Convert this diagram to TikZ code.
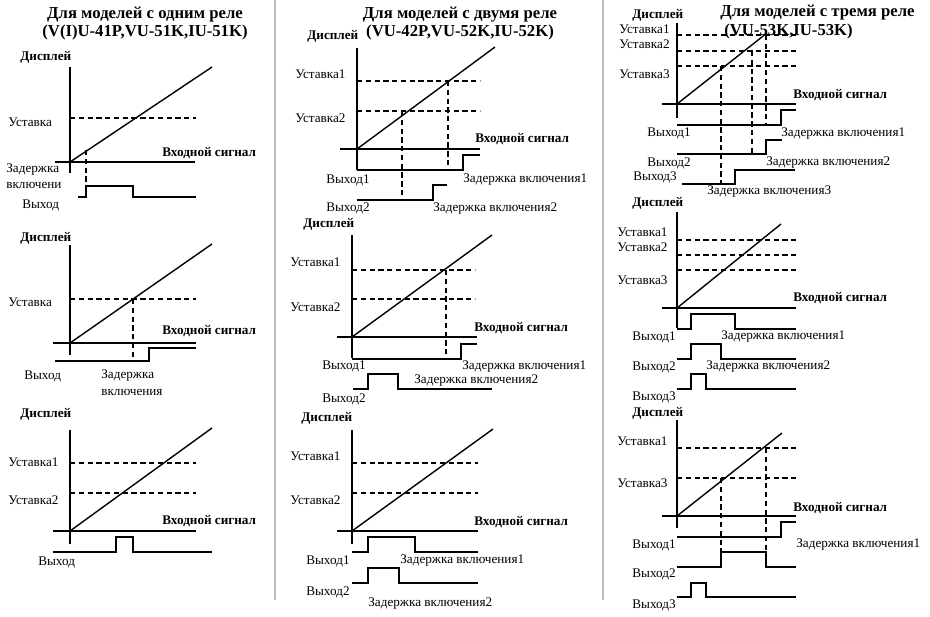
\documentclass[tikz,border=0pt]{standalone}
\usepackage{fontspec}
\setmainfont{Liberation Serif}
\begin{document}
\begin{tikzpicture}[x=0.02cm,y=-0.02cm,
  ln/.style={line width=0.8pt},
  ds/.style={line width=0.7pt,dash pattern=on 3pt off 2pt},
  sep/.style={line width=0.6pt,black!25},
  lb/.style={font=\fontsize{7.5}{8}\selectfont,inner sep=0pt,anchor=west},
  bl/.style={font=\bfseries\fontsize{7.5}{8}\selectfont,inner sep=0pt,anchor=west},
  ttl/.style={font=\bfseries\fontsize{9.5}{10}\selectfont,inner sep=0pt}]
\useasboundingbox (0,0) rectangle (930,616);
\draw[sep] (275,0) -- (275,600);
\draw[sep] (603,0) -- (603,600);
% ===== Column 1 =====
\node[ttl] (t1a) at (145,15) {Для моделей с одним реле};
\node[ttl] (t1b) at (145,32) {(V(I)U-41P,VU-51K,IU-51K)};
% top
\draw[ln] (70,67) -- (70,173); \draw[ln] (55,162) -- (195,162);
\draw[ln] (70,162) -- (212,67);
\draw[ds] (70,118) -- (196,118); \draw[ds] (86,150) -- (86,190);
\draw[ln] (78,197) -- (86,197) -- (86,186) -- (133,186) -- (133,197) -- (196,197);
\node[bl] (d1) at (20,57) {Дисплей};
\node[lb] (u1) at (8,122) {Уставка};
\node[bl] (v1) at (162,153) {Входной сигнал};
\node[lb] (z1) at (6,170) {Задержка};
\node[lb] (z1b) at (6,185) {включени};
\node[lb] (o1) at (22,205) {Выход};
% middle
\draw[ln] (70,245) -- (70,355); \draw[ln] (53,343) -- (196,343);
\draw[ln] (70,343) -- (212,244);
\draw[ds] (70,299) -- (196,299); \draw[ds] (133,299) -- (133,362);
\draw[ln] (55,361) -- (149,361) -- (149,348) -- (196,348);
\node[bl] (d2) at (20,238) {Дисплей};
\node[lb] (u2) at (8,302) {Уставка};
\node[bl] (v2) at (162,331) {Входной сигнал};
\node[lb] (o2) at (24,376) {Выход};
\node[lb] (z2) at (101,376) {Задержка};
\node[lb] (z2b) at (101,392) {включения};
% bottom
\draw[ln] (70,430) -- (70,544); \draw[ln] (53,531) -- (196,531);
\draw[ln] (70,531) -- (212,428);
\draw[ds] (70,463) -- (196,463); \draw[ds] (70,493) -- (196,493);
\draw[ln] (53,552) -- (116,552) -- (116,537) -- (133,537) -- (133,552) -- (212,552);
\node[bl] (d3) at (20,414) {Дисплей};
\node[lb] (u3a) at (8,462) {Уставка1};
\node[lb] (u3b) at (8,500) {Уставка2};
\node[bl] (v3) at (162,521) {Входной сигнал};
\node[lb] (o3) at (38,562) {Выход};
% ===== Column 2 =====
\node[ttl] (t2a) at (460,15) {Для моделей с двумя реле};
\node[ttl] (t2b) at (460,32) {(VU-42P,VU-52K,IU-52K)};
% top
\draw[ln] (357,48) -- (357,170); \draw[ln] (340,149) -- (480,149);
\draw[ln] (357,149) -- (495,47);
\draw[ds] (357,81) -- (480,81); \draw[ds] (357,111) -- (480,111);
\draw[ds] (448,81) -- (448,170); \draw[ds] (402,111) -- (402,200);
\draw[ln] (357,170) -- (463,170) -- (463,155) -- (480,155);
\draw[ln] (357,200) -- (433,200) -- (433,185) -- (447,185);
\node[bl] (d4) at (307,36) {Дисплей};
\node[lb] (u4a) at (295,74) {Уставка1};
\node[lb] (u4b) at (295,118) {Уставка2};
\node[bl] (v4) at (475,139) {Входной сигнал};
\node[lb] (o4a) at (326,180) {Выход1};
\node[lb] (z4a) at (463,180) {Задержка включения1};
\node[lb] (o4b) at (326,208) {Выход2};
\node[lb] (z4b) at (433,209) {Задержка включения2};
% middle
\draw[ln] (352,235) -- (352,358); \draw[ln] (337,337) -- (477,337);
\draw[ln] (352,337) -- (492,235);
\draw[ds] (352,270) -- (475,270); \draw[ds] (352,299) -- (475,299);
\draw[ds] (446,270) -- (446,358);
\draw[ln] (352,359) -- (461,359) -- (461,344) -- (477,344);
\draw[ln] (353,389) -- (368,389) -- (368,374) -- (398,374) -- (398,389) -- (492,389);
\node[bl] (d5) at (303,224) {Дисплей};
\node[lb] (u5a) at (290,262) {Уставка1};
\node[lb] (u5b) at (290,307) {Уставка2};
\node[bl] (v5) at (474,328) {Входной сигнал};
\node[lb] (o5a) at (322,366) {Выход1};
\node[lb] (z5a) at (462,367) {Задержка включения1};
\node[lb] (z5b) at (414,381) {Задержка включения2};
\node[lb] (o5b) at (322,399) {Выход2};
% bottom
\draw[ln] (352,430) -- (352,544); \draw[ln] (337,531) -- (478,531);
\draw[ln] (352,531) -- (493,429);
\draw[ds] (352,463) -- (478,463); \draw[ds] (352,493) -- (478,493);
\draw[ln] (352,552) -- (368,552) -- (368,537) -- (415,537) -- (415,552) -- (478,552);
\draw[ln] (352,583) -- (368,583) -- (368,568) -- (399,568) -- (399,583) -- (478,583);
\node[bl] (d6) at (301,418) {Дисплей};
\node[lb] (u6a) at (290,456) {Уставка1};
\node[lb] (u6b) at (290,500) {Уставка2};
\node[bl] (v6) at (474,522) {Входной сигнал};
\node[lb] (o6a) at (306,561) {Выход1};
\node[lb] (z6a) at (400,561) {Задержка включения1};
\node[lb] (o6b) at (306,592) {Выход2};
\node[lb] (z6b) at (368,604) {Задержка включения2};
% ===== Column 3 =====
\node[ttl,anchor=west] (t3a) at (720,13) {Для моделей с тремя реле};
\node[ttl,anchor=west] (t3b) at (724,31) {(VU-53K,IU-53K)};
% top
\draw[ln] (677,23) -- (677,118); \draw[ln] (662,104) -- (796,104);
\draw[ln] (677,104) -- (767,33);
\draw[ds] (677,35) -- (796,35); \draw[ds] (677,51) -- (796,51); \draw[ds] (677,66) -- (796,66);
\draw[ds] (766,35) -- (766,125); \draw[ds] (752,51) -- (752,153); \draw[ds] (721,66) -- (721,185);
\draw[ln] (677,125) -- (781,125) -- (781,110) -- (796,110);
\draw[ln] (677,154) -- (766,154) -- (766,140) -- (782,140);
\draw[ln] (682,184) -- (735,184) -- (735,170) -- (795,170);
\node[bl] (d7) at (632,15) {Дисплей};
\node[lb] (u7a) at (619,29) {Уставка1};
\node[lb] (u7b) at (619,44) {Уставка2};
\node[lb] (u7c) at (619,74) {Уставка3};
\node[bl] (v7) at (793,95) {Входной сигнал};
\node[lb] (o7a) at (647,133) {Выход1};
\node[lb] (z7a) at (781,134) {Задержка включения1};
\node[lb] (o7b) at (647,163) {Выход2};
\node[lb] (z7b) at (766,163) {Задержка включения2};
\node[lb] (o7c) at (633,177) {Выход3};
\node[lb] (z7c) at (707,192) {Задержка включения3};
% middle
\draw[ln] (677,212) -- (677,328); \draw[ln] (662,308) -- (796,308);
\draw[ln] (677,308) -- (781,224);
\draw[ds] (677,240) -- (796,240); \draw[ds] (677,255) -- (796,255); \draw[ds] (677,270) -- (796,270);
\draw[ln] (677,329) -- (691,329) -- (691,314) -- (735,314) -- (735,329) -- (796,329);
\draw[ln] (677,359) -- (691,359) -- (691,344) -- (721,344) -- (721,359) -- (796,359);
\draw[ln] (677,389) -- (691,389) -- (691,374) -- (706,374) -- (706,389) -- (796,389);
\node[bl] (d8) at (632,203) {Дисплей};
\node[lb] (u8a) at (617,232) {Уставка1};
\node[lb] (u8b) at (617,247) {Уставка2};
\node[lb] (u8c) at (617,280) {Уставка3};
\node[bl] (v8) at (793,298) {Входной сигнал};
\node[lb] (o8a) at (632,337) {Выход1};
\node[lb] (z8a) at (721,337) {Задержка включения1};
\node[lb] (o8b) at (632,367) {Выход2};
\node[lb] (z8b) at (706,367) {Задержка включения2};
\node[lb] (o8c) at (632,397) {Выход3};
% bottom
\draw[ln] (677,420) -- (677,528); \draw[ln] (662,516) -- (796,516);
\draw[ln] (677,516) -- (782,433);
\draw[ds] (677,448) -- (796,448); \draw[ds] (677,478) -- (796,478);
\draw[ds] (766,448) -- (766,567); \draw[ds] (721,478) -- (721,567);
\draw[ln] (677,537) -- (781,537) -- (781,522) -- (796,522);
\draw[ln] (677,567) -- (721,567) -- (721,552) -- (766,552) -- (766,567) -- (796,567);
\draw[ln] (677,597) -- (691,597) -- (691,583) -- (706,583) -- (706,597) -- (796,597);
\node[bl] (d9) at (632,413) {Дисплей};
\node[lb] (u9a) at (617,441) {Уставка1};
\node[lb] (u9c) at (617,483) {Уставка3};
\node[bl] (v9) at (793,508) {Входной сигнал};
\node[lb] (o9a) at (632,545) {Выход1};
\node[lb] (z9a) at (796,545) {Задержка включения1};
\node[lb] (o9b) at (632,574) {Выход2};
\node[lb] (o9c) at (632,605) {Выход3};
\end{tikzpicture}
\end{document}
